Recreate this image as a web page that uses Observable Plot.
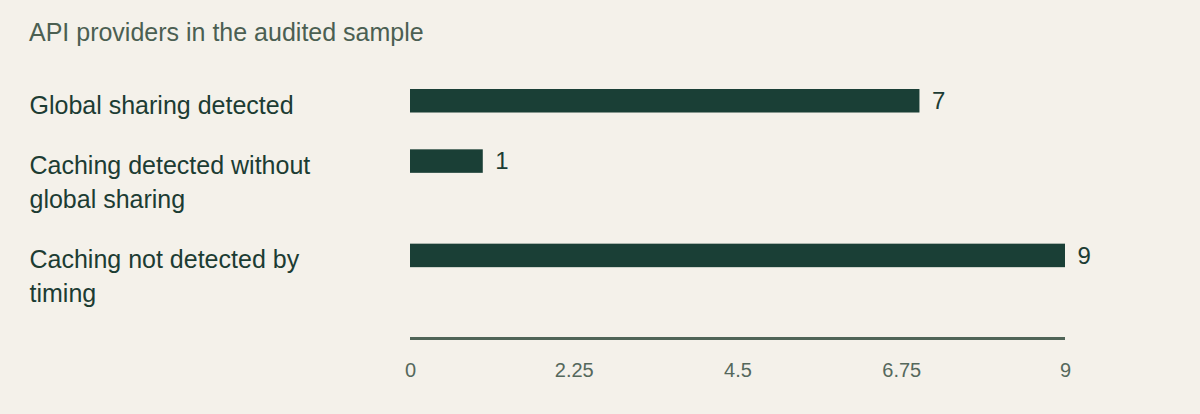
<!DOCTYPE html>
<html>
<head>
<meta charset="utf-8">
<script src="https://cdn.jsdelivr.net/npm/d3@7"></script>
<script src="https://cdn.jsdelivr.net/npm/@observablehq/plot@0.6"></script>
<style>
  html, body { margin: 0; padding: 0; background: #f4f1ea; }
  body { width: 1200px; height: 414px; overflow: hidden; font-family: "Liberation Sans", Arial, sans-serif; }
  #title { height: 40px; padding: 20px 0 0 29px; font-size: 25px; line-height: 24px; color: #4b5f52; box-sizing: content-box; }
  #chart svg { display: block; }
</style>
</head>
<body>
<div id="title">API providers in the audited sample</div>
<div id="chart"></div>
<script>
const categories = [
  "Global sharing detected",
  "Caching detected without\nglobal sharing",
  "Caching not detected by\ntiming"
];
const counts = [7, 1, 9];
const xTicks = [0, 2.25, 4.5, 6.75, 9];

// layout derived from the number of label lines
const lineHeight = 34, rowBase = 26.3, barH = 23.5;
let acc = 0;
const rows = categories.map((c, i) => {
  const lines = c.split("\n").length;
  const start = acc;
  acc += rowBase + lineHeight * lines;
  return {category: c, value: counts[i], start, end: start + barH, mid: start + barH / 2};
});
const total = acc;

const chart = Plot.plot({
  width: 1200,
  height: 354,
  marginLeft: 410,
  marginRight: 135,
  marginTop: 29,
  marginBottom: 76,
  style: {background: "transparent", fontFamily: "'Liberation Sans', Arial, sans-serif"},
  x: {domain: [0, 9], label: null},
  y: {domain: [0, total], reverse: true, axis: null},
  marks: [
    Plot.rect(rows, {x1: 0, x2: "value", y1: "start", y2: "end", fill: "#1a3f36"}),
    Plot.text(rows, {x: "value", y: "mid", text: d => String(d.value), textAnchor: "start", dx: 12, fontSize: 24, fill: "#1c3c33", lineAnchor: "middle"}),
    Plot.text(rows, {frameAnchor: "left", y: "start", text: "category", textAnchor: "start", dx: -381, lineAnchor: "top", lineHeight: lineHeight / 25, fontSize: 25, fill: "#1c3c33"}),
    Plot.ruleY([total], {stroke: "#4f6457", strokeWidth: 3}),
    Plot.axisX({ticks: xTicks, tickFormat: d => String(d), tickSize: 0, tickPadding: 24, fontSize: 20, color: "#55685c", anchor: "bottom", label: null})
  ]
});
document.getElementById("chart").appendChild(chart);
</script>
</body>
</html>
